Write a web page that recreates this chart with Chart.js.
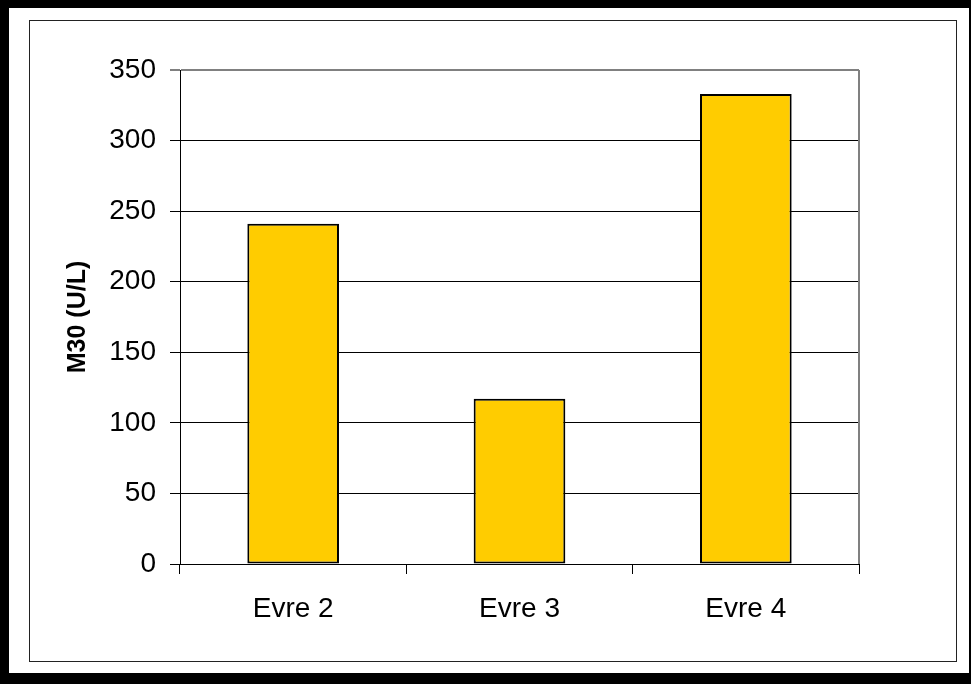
<!DOCTYPE html>
<html lang="tr">
<head>
    <meta charset="UTF-8">
    <title>M30 (U/L)</title>
    <script src="https://cdn.jsdelivr.net/npm/chart.js@4.4.1/dist/chart.umd.min.js"></script>
    <style>
        body { margin: 0; background: #000; }
        #page { position: absolute; left: 9px; top: 8px; width: 960px; height: 665px; background: #fff; }
        #frame { position: absolute; left: 29px; top: 20px; width: 928px; height: 642px; box-sizing: border-box; border: 1px solid #222; }
        #chart { position: absolute; left: 0; top: 0; }
    </style>
</head>
<body>
    <div id="page"></div>
    <div id="frame"></div>
    <canvas id="chart" width="971" height="684"></canvas>

    <script>
// dati
var categories = ["Evre 2", "Evre 3", "Evre 4"];
var m30Values = [241, 117, 333];
var yTicks = [0, 50, 100, 150, 200, 250, 300, 350];

var tickFont = { family: "'Liberation Sans', Arial, sans-serif", size: 28 };

// bordo grigio del riquadro del grafico (lato destro)
var plotBorder = {
    id: "plotBorder",
    beforeDatasetsDraw: function(chart) {
        var a = chart.chartArea;
        var ctx = chart.ctx;
        ctx.save();
        ctx.strokeStyle = "#808080";
        ctx.lineWidth = 2;
        ctx.beginPath();
        ctx.moveTo(a.right, a.top);
        ctx.lineTo(a.right, a.bottom);
        ctx.stroke();
        ctx.restore();
    }
};

var chart = new Chart(document.getElementById("chart").getContext("2d"), {
    type: "bar",
    data: {
        labels: categories,
        datasets: [{
            label: "M30 (U/L)",
            data: m30Values,
            backgroundColor: "#FFCC00",
            borderColor: "#000",
            borderWidth: 2,
            borderSkipped: false,
            barPercentage: 0.405,
            categoryPercentage: 1.0
        }]
    },
    options: {
        responsive: false,
        animation: false,
        layout: { padding: { left: 0, top: 70, right: 112, bottom: 0 } },
        plugins: {
            legend: { display: false },
            tooltip: { enabled: false }
        },
        scales: {
            x: {
                grid: { drawOnChartArea: false, drawTicks: true, tickLength: 10, color: "#000" },
                border: { color: "#000", width: 1 },
                ticks: { font: tickFont, color: "#000", padding: 18, maxRotation: 0 },
                afterFit: function(scale) { scale.height = 120; }
            },
            y: {
                min: 0,
                max: 350,
                afterBuildTicks: function(scale) {
                    scale.ticks = yTicks.map(function(v) { return { value: v }; });
                },
                grid: {
                    color: function(c) { return c.tick && c.tick.value === 350 ? "#808080" : "#000"; },
                    lineWidth: function(c) { return c.tick && c.tick.value === 350 ? 2 : 1; },
                    tickLength: 10
                },
                border: { color: "#000", width: 1 },
                ticks: { font: tickFont, color: "#000", padding: 14 },
                title: {
                    display: true,
                    text: "M30 (U/L)",
                    color: "#000",
                    font: { family: "'Liberation Sans', Arial, sans-serif", size: 25, weight: "bold" },
                    padding: { top: 63, bottom: 0 }
                },
                afterFit: function(scale) { scale.width = 180; }
            }
        }
    },
    plugins: [plotBorder]
});
    </script>
</body>
</html>
